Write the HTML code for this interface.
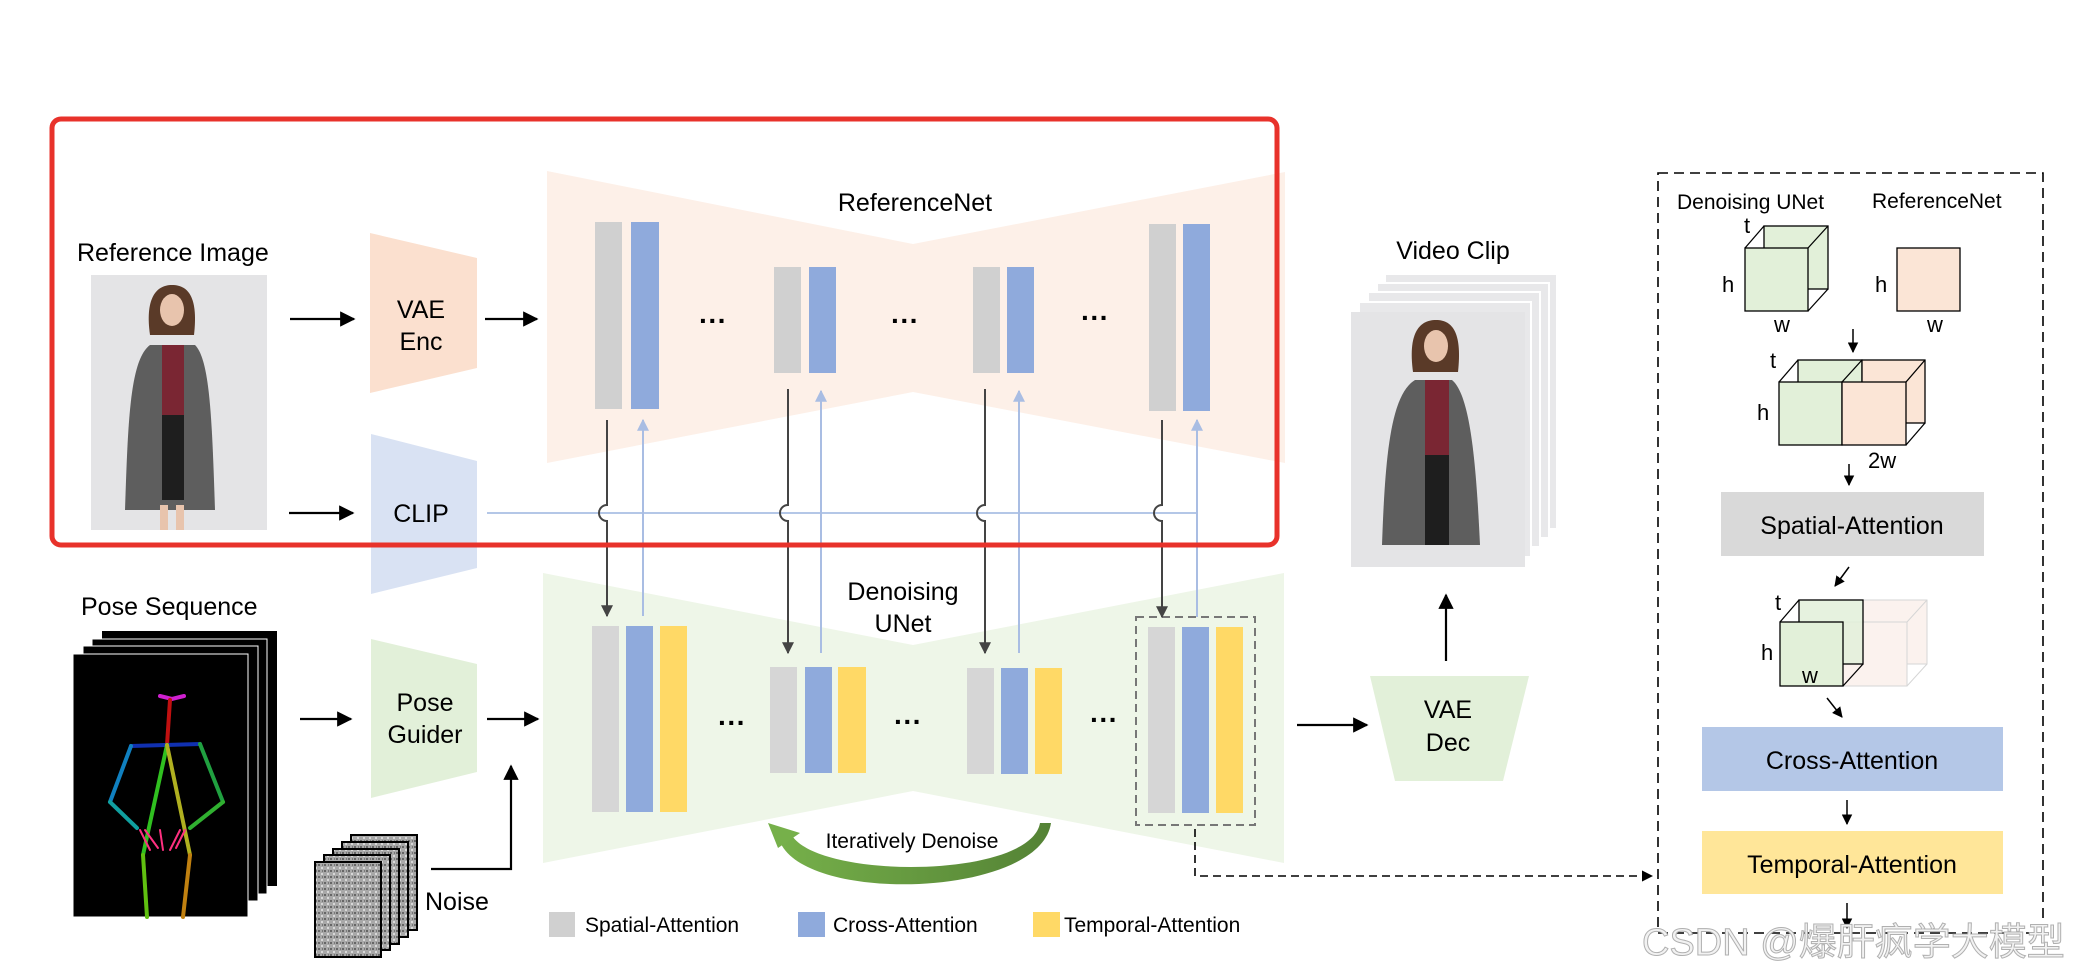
<!DOCTYPE html>
<html><head><meta charset="utf-8"><style>
html,body{margin:0;padding:0;background:#fff;}
svg{display:block;}
text{font-family:"Liberation Sans","Noto Sans CJK SC",sans-serif;fill:#000;}
</style></head><body>
<svg width="2078" height="974" viewBox="0 0 2078 974" xmlns="http://www.w3.org/2000/svg">
<defs>
<marker id="ab" viewBox="0 0 10 10" refX="9" refY="5" markerWidth="7" markerHeight="7" orient="auto"><path d="M0,0 L10,5 L0,10 z" fill="#000"/></marker>
<marker id="ad" viewBox="0 0 10 10" refX="9" refY="5" markerWidth="6" markerHeight="6" orient="auto"><path d="M0,0 L10,5 L0,10 z" fill="#444"/></marker>
<marker id="al" viewBox="0 0 10 10" refX="9" refY="5" markerWidth="6" markerHeight="6" orient="auto"><path d="M0,0 L10,5 L0,10 z" fill="#a9bde3"/></marker>
<linearGradient id="gr" x1="0" x2="1"><stop offset="0" stop-color="#76b04a"/><stop offset="1" stop-color="#548235"/></linearGradient>
<pattern id="nz" width="6" height="6" patternUnits="userSpaceOnUse"><rect width="6" height="6" fill="#a8a8a8"/><rect x="0" y="0" width="2" height="2" fill="#666"/><rect x="3" y="3" width="2" height="2" fill="#d8d8d8"/><rect x="4" y="0" width="1" height="2" fill="#777"/></pattern>
</defs>

<polygon points="547,171 913,244 1285,172 1285,463 913,392 547,463" fill="#fdf0e8"/>
<text x="915" y="211" font-size="25" text-anchor="middle">ReferenceNet</text>
<polygon points="543,573 913,645 1284,573 1284,863 913,791 543,863" fill="#eef6e8"/>
<text x="903" y="600" font-size="25" text-anchor="middle">Denoising</text>
<text x="903" y="632" font-size="25" text-anchor="middle">UNet</text>

<rect x="595" y="222" width="27" height="187" fill="#d0d0d0"/><rect x="631" y="222" width="28" height="187" fill="#8faadc"/>
<rect x="774" y="267" width="27" height="106" fill="#d0d0d0"/><rect x="809" y="267" width="27" height="106" fill="#8faadc"/>
<rect x="973" y="267" width="27" height="106" fill="#d0d0d0"/><rect x="1007" y="267" width="27" height="106" fill="#8faadc"/>
<rect x="1149" y="224" width="27" height="187" fill="#d0d0d0"/><rect x="1183" y="224" width="27" height="187" fill="#8faadc"/>
<text x="713" y="330" font-size="28" font-weight="bold" text-anchor="middle">···</text>
<text x="905" y="330" font-size="28" font-weight="bold" text-anchor="middle">···</text>
<text x="1095" y="327" font-size="28" font-weight="bold" text-anchor="middle">···</text>

<rect x="592" y="626" width="27" height="186" fill="#d6d6d6"/><rect x="626" y="626" width="27" height="186" fill="#8faadc"/><rect x="660" y="626" width="27" height="186" fill="#ffd966"/>
<rect x="770" y="667" width="27" height="106" fill="#d6d6d6"/><rect x="805" y="667" width="27" height="106" fill="#8faadc"/><rect x="838" y="667" width="28" height="106" fill="#ffd966"/>
<rect x="967" y="668" width="27" height="106" fill="#d6d6d6"/><rect x="1001" y="668" width="27" height="106" fill="#8faadc"/><rect x="1035" y="668" width="27" height="106" fill="#ffd966"/>
<rect x="1148" y="627" width="27" height="186" fill="#d6d6d6"/><rect x="1182" y="627" width="27" height="186" fill="#8faadc"/><rect x="1216" y="627" width="27" height="186" fill="#ffd966"/>
<rect x="1136" y="617" width="119" height="208" fill="none" stroke="#777" stroke-width="2" stroke-dasharray="8,5"/>
<text x="732" y="732" font-size="28" font-weight="bold" text-anchor="middle">···</text>
<text x="908" y="731" font-size="28" font-weight="bold" text-anchor="middle">···</text>
<text x="1104" y="729" font-size="28" font-weight="bold" text-anchor="middle">···</text>

<line x1="487" y1="513" x2="1197" y2="513" stroke="#b4c7e7" stroke-width="2"/>
<g fill="none" stroke-width="2">
<path d="M607,420 V505 a8,8 0 0 0 0,16 V616" stroke="#444" marker-end="url(#ad)"/>
<path d="M643,616 V420" stroke="#a9bde3" marker-end="url(#al)"/>
<path d="M788,389 V505 a8,8 0 0 0 0,16 V653" stroke="#444" marker-end="url(#ad)"/>
<path d="M821,653 V391" stroke="#a9bde3" marker-end="url(#al)"/>
<path d="M985,389 V505 a8,8 0 0 0 0,16 V653" stroke="#444" marker-end="url(#ad)"/>
<path d="M1019,653 V391" stroke="#a9bde3" marker-end="url(#al)"/>
<path d="M1162,420 V505 a8,8 0 0 0 0,16 V617" stroke="#444" marker-end="url(#ad)"/>
<path d="M1197,617 V420" stroke="#a9bde3" marker-end="url(#al)"/>
</g>

<polygon points="370,233 477,258 477,368 370,393" fill="#fbe0cf"/>
<text x="421" y="318" font-size="25" text-anchor="middle">VAE</text>
<text x="421" y="350" font-size="25" text-anchor="middle">Enc</text>
<polygon points="371,434 477,461 477,568 371,594" fill="#d9e2f3"/>
<text x="421" y="522" font-size="25" text-anchor="middle">CLIP</text>
<polygon points="371,639 477,664 477,772 371,798" fill="#e2f0d9"/>
<text x="425" y="711" font-size="25" text-anchor="middle">Pose</text>
<text x="425" y="743" font-size="25" text-anchor="middle">Guider</text>

<g stroke="#000" stroke-width="2.2" fill="none" marker-end="url(#ab)">
<line x1="290" y1="319" x2="354" y2="319"/>
<line x1="485" y1="319" x2="537" y2="319"/>
<line x1="289" y1="513" x2="353" y2="513"/>
<line x1="300" y1="719" x2="351" y2="719"/>
<line x1="487" y1="719" x2="538" y2="719"/>
<path d="M431,869 H511 V766"/>
<line x1="1297" y1="725" x2="1367" y2="725"/>
<line x1="1446" y1="661" x2="1446" y2="595"/>
</g>

<text x="77" y="261" font-size="25">Reference Image</text>
<rect x="91" y="275" width="176" height="255" fill="#e4e4e6"/>
<path d="M150,345 C130,360 128,420 125,510 L215,510 C212,420 210,360 195,345 Z" fill="#5e5e5e"/>
<rect x="162" y="345" width="22" height="70" fill="#7a2633"/>
<rect x="162" y="415" width="22" height="85" fill="#1e1e1e"/>
<path d="M150,335 C145,300 155,285 172,285 C190,285 198,300 194,335 Z" fill="#5a3a28"/>
<ellipse cx="172" cy="310" rx="12" ry="16" fill="#e8c4ad"/>
<rect x="160" y="505" width="8" height="25" fill="#e8c4ad"/><rect x="176" y="505" width="8" height="25" fill="#e8c4ad"/>

<rect x="52" y="119" width="1225" height="426" rx="9" fill="none" stroke="#e8322b" stroke-width="5"/>

<text x="81" y="615" font-size="25">Pose Sequence</text>
<rect x="102" y="631" width="175" height="255" fill="#000"/>
<rect x="92" y="639" width="175" height="255" fill="#000" stroke="#fff" stroke-width="1"/>
<rect x="83" y="646" width="175" height="255" fill="#000" stroke="#fff" stroke-width="1"/>
<rect x="73" y="654" width="175" height="263" fill="#000" stroke="#fff" stroke-width="1"/>
<g stroke-width="4" stroke-linecap="round" fill="none">
<path d="M160,696 L172,699 L184,696" stroke="#d020d0"/>
<line x1="170" y1="700" x2="167" y2="745" stroke="#c01010"/>
<line x1="131" y1="746" x2="200" y2="744" stroke="#1030b0"/>
<line x1="131" y1="746" x2="110" y2="802" stroke="#1080c0"/>
<line x1="110" y1="802" x2="137" y2="828" stroke="#10a0a0"/>
<line x1="200" y1="744" x2="223" y2="802" stroke="#20a040"/>
<line x1="223" y1="802" x2="190" y2="828" stroke="#30b030"/>
<line x1="167" y1="745" x2="143" y2="855" stroke="#30c020"/>
<line x1="167" y1="745" x2="190" y2="855" stroke="#b0b020"/>
<line x1="143" y1="855" x2="147" y2="917" stroke="#60c010"/>
<line x1="190" y1="855" x2="183" y2="917" stroke="#c08010"/>
<path d="M140,830 L150,850 M145,830 L158,848 M160,830 L163,850 M180,830 L170,850 M185,830 L176,848" stroke="#ff3080" stroke-width="2"/>
</g>

<rect x="351" y="835" width="66" height="95" fill="url(#nz)" stroke="#000" stroke-width="2"/>
<rect x="342" y="842" width="66" height="95" fill="url(#nz)" stroke="#000" stroke-width="2"/>
<rect x="333" y="849" width="66" height="95" fill="url(#nz)" stroke="#000" stroke-width="2"/>
<rect x="324" y="855" width="66" height="95" fill="url(#nz)" stroke="#000" stroke-width="2"/>
<rect x="315" y="862" width="66" height="95" fill="url(#nz)" stroke="#000" stroke-width="2"/>
<text x="425" y="910" font-size="25">Noise</text>

<path d="M1051,823 C1040,900 790,905 778,835 L790,832 C810,880 1030,880 1040,823 Z" fill="url(#gr)"/>
<polygon points="768,823 800,833 778,848" fill="#76b04a"/>
<text x="912" y="848" font-size="21" text-anchor="middle">Iteratively Denoise</text>

<rect x="549" y="912" width="26" height="25" fill="#d0d0d0"/>
<text x="585" y="932" font-size="21">Spatial-Attention</text>
<rect x="798" y="912" width="27" height="25" fill="#8faadc"/>
<text x="833" y="932" font-size="21">Cross-Attention</text>
<rect x="1033" y="912" width="27" height="25" fill="#ffd966"/>
<text x="1064" y="932" font-size="21">Temporal-Attention</text>

<text x="1453" y="259" font-size="25" text-anchor="middle">Video Clip</text>
<rect x="1385" y="274" width="172" height="255" fill="#e8e8ea" stroke="#fff" stroke-width="2"/>
<rect x="1377" y="283" width="172" height="255" fill="#e8e8ea" stroke="#fff" stroke-width="2"/>
<rect x="1368" y="292" width="172" height="255" fill="#e8e8ea" stroke="#fff" stroke-width="2"/>
<rect x="1359" y="302" width="172" height="255" fill="#e8e8ea" stroke="#fff" stroke-width="2"/>
<rect x="1351" y="312" width="174" height="255" fill="#e4e4e6"/>
<path d="M1415,380 C1390,395 1385,460 1382,545 L1480,545 C1476,460 1470,395 1452,380 Z" fill="#5e5e5e"/>
<rect x="1425" y="380" width="24" height="75" fill="#7a2633"/>
<rect x="1425" y="455" width="24" height="90" fill="#1e1e1e"/>
<path d="M1413,372 C1408,335 1418,320 1436,320 C1454,320 1462,335 1458,372 Z" fill="#5a3a28"/>
<ellipse cx="1436" cy="346" rx="12" ry="16" fill="#e8c4ad"/>

<polygon points="1370,676 1529,676 1503,781 1395,781" fill="#e2f0d9"/>
<text x="1448" y="718" font-size="25" text-anchor="middle">VAE</text>
<text x="1448" y="751" font-size="25" text-anchor="middle">Dec</text>

<path d="M1195,829 V876 H1652" fill="none" stroke="#000" stroke-width="1.6" stroke-dasharray="8,5" marker-end="url(#ab)"/>

<rect x="1658" y="173" width="385" height="760" fill="none" stroke="#000" stroke-width="1.6" stroke-dasharray="10,6"/>
<text x="1677" y="209" font-size="21">Denoising UNet</text>
<text x="1872" y="208" font-size="21">ReferenceNet</text>
<g stroke="#000" stroke-width="1.3">
<rect x="1764" y="226" width="64" height="63" fill="#e2f0d9"/>
<line x1="1745" y1="248" x2="1764" y2="226"/><line x1="1808" y1="311" x2="1828" y2="289"/>
<line x1="1808" y1="248" x2="1828" y2="226"/>
<rect x="1745" y="248" width="63" height="63" fill="#e2f0d9"/>
<rect x="1897" y="248" width="63" height="63" fill="#fbe5d6"/>
</g>
<text x="1744" y="233" font-size="22">t</text>
<text x="1722" y="292" font-size="22">h</text>
<text x="1774" y="332" font-size="22">w</text>
<text x="1875" y="292" font-size="22">h</text>
<text x="1927" y="332" font-size="22">w</text>
<line x1="1853" y1="329" x2="1853" y2="352" stroke="#000" stroke-width="1.5" marker-end="url(#ab)"/>
<g stroke="#000" stroke-width="1.3">
<rect x="1798" y="360" width="64" height="63" fill="#e2f0d9"/>
<rect x="1862" y="360" width="63" height="63" fill="#fbe5d6"/>
<line x1="1779" y1="382" x2="1798" y2="360"/><line x1="1842" y1="382" x2="1862" y2="360"/>
<line x1="1906" y1="382" x2="1925" y2="360"/><line x1="1906" y1="445" x2="1925" y2="423"/>
<rect x="1779" y="382" width="63" height="63" fill="#e2f0d9"/>
<rect x="1842" y="382" width="64" height="63" fill="#fbe5d6"/>
</g>
<text x="1770" y="368" font-size="22">t</text>
<text x="1757" y="420" font-size="22">h</text>
<text x="1868" y="468" font-size="22">2w</text>
<line x1="1849" y1="464" x2="1849" y2="485" stroke="#000" stroke-width="1.5" marker-end="url(#ab)"/>
<rect x="1721" y="492" width="263" height="64" fill="#d9d9d9"/>
<text x="1852" y="534" font-size="25" text-anchor="middle">Spatial-Attention</text>
<line x1="1849" y1="567" x2="1835" y2="586" stroke="#000" stroke-width="1.5" marker-end="url(#ab)"/>
<g stroke="#ccc" stroke-width="1" opacity="0.8">
<rect x="1863" y="600" width="64" height="64" fill="#fbf0ea"/>
<rect x="1843" y="622" width="64" height="64" fill="#fbf0ea"/>
<line x1="1907" y1="622" x2="1927" y2="600"/><line x1="1907" y1="686" x2="1927" y2="664"/>
</g>
<g stroke="#000" stroke-width="1.3">
<rect x="1799" y="600" width="64" height="64" fill="#e2f0d9" fill-opacity="0.85"/>
<line x1="1780" y1="622" x2="1799" y2="600"/><line x1="1843" y1="686" x2="1863" y2="664"/>
<rect x="1780" y="622" width="63" height="64" fill="#e2f0d9"/>
</g>
<text x="1775" y="610" font-size="22">t</text>
<text x="1761" y="660" font-size="22">h</text>
<text x="1802" y="683" font-size="22">w</text>
<line x1="1827" y1="698" x2="1842" y2="717" stroke="#000" stroke-width="1.5" marker-end="url(#ab)"/>
<rect x="1702" y="727" width="301" height="64" fill="#b4c7e7"/>
<text x="1852" y="769" font-size="25" text-anchor="middle">Cross-Attention</text>
<line x1="1847" y1="800" x2="1847" y2="824" stroke="#000" stroke-width="1.5" marker-end="url(#ab)"/>
<rect x="1702" y="831" width="301" height="63" fill="#ffe699"/>
<text x="1852" y="873" font-size="25" text-anchor="middle">Temporal-Attention</text>
<line x1="1847" y1="903" x2="1847" y2="928" stroke="#000" stroke-width="1.5" marker-end="url(#ab)"/>

<text x="1642" y="955" font-size="38" style="fill:#f2f2f2;stroke:#b0b0b0;stroke-width:1">CSDN @爆肝疯学大模型</text>
</svg>
</body></html>
